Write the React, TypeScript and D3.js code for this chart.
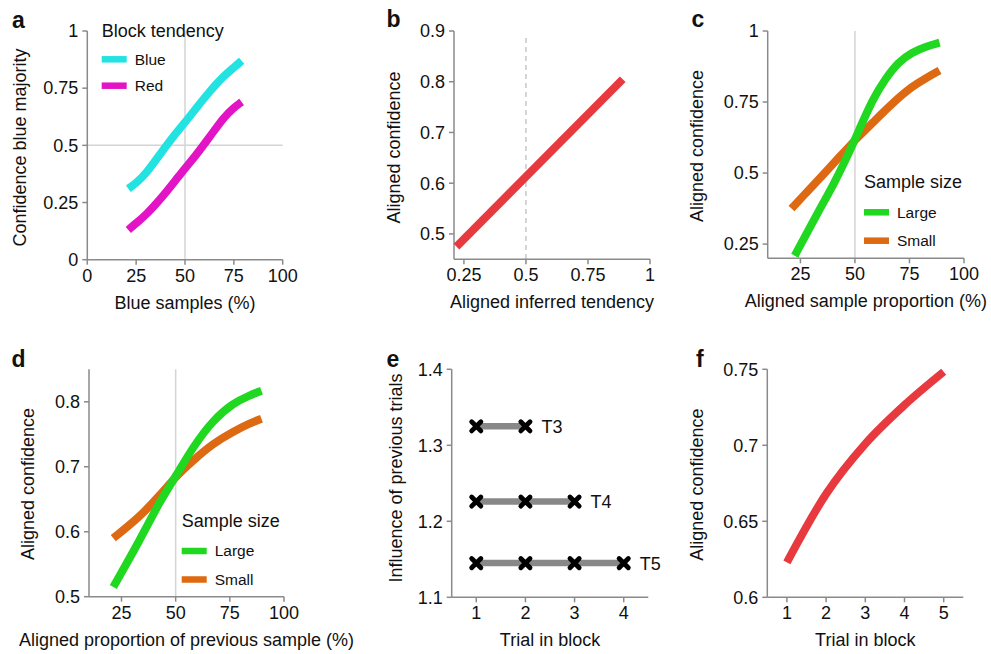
import React from "react";
import * as d3 from "d3";

const FONT = "'Liberation Sans', Arial, Helvetica, sans-serif";

// ---- Panel a ----
const aX = [21, 25, 30, 37.5, 45, 50, 55, 62.5, 70, 75, 79];
const aBlue = [0.31, 0.335, 0.375, 0.465, 0.55, 0.6, 0.655, 0.735, 0.805, 0.84, 0.87];
const aRed = [0.13, 0.16, 0.195, 0.265, 0.345, 0.4, 0.45, 0.535, 0.625, 0.665, 0.69];
const aXTicks = [0, 25, 50, 75, 100];
const aYTicks = [0, 0.25, 0.5, 0.75, 1];

// ---- Panel b ----
const bX = [0.22, 0.89];
const bY = [0.475, 0.805];
const bXTicks = [0.25, 0.5, 0.75, 1];
const bYTicks = [0.5, 0.6, 0.7, 0.8, 0.9];

// ---- Panel c ----
const cLargeX = [22.4, 33.8, 39.8, 45.9, 52, 58, 64.1, 70.1, 76.2, 82.3, 88.8];
const cLarge = [0.209, 0.373, 0.454, 0.548, 0.653, 0.758, 0.834, 0.892, 0.925, 0.945, 0.959];
const cSmallX = [20.9, 27.7, 33.8, 39.8, 45.9, 52, 58, 67.3, 76.2, 82.3, 88.8];
const cSmall = [0.375, 0.431, 0.481, 0.531, 0.582, 0.631, 0.676, 0.747, 0.805, 0.833, 0.861];
const cXTicks = [25, 50, 75, 100];
const cYTicks = [0.25, 0.5, 0.75, 1];

// ---- Panel d ----
const dX = [21.2, 33.5, 42.7, 50, 58.1, 67.3, 76.5, 84.2, 89.6];
const dLarge = [0.515, 0.587, 0.647, 0.685, 0.731, 0.772, 0.798, 0.81, 0.817];
const dSmall = [0.59, 0.623, 0.656, 0.685, 0.71, 0.736, 0.754, 0.767, 0.774];
const dXTicks = [25, 50, 75, 100];
const dYTicks = [0.5, 0.6, 0.7, 0.8];

// ---- Panel e ----
const eSeriesNames = ["T3", "T4", "T5"];
const eSeriesTrials = [[1, 2], [1, 2, 3], [1, 2, 3, 4]];
const eSeriesValues = [1.325, 1.226, 1.145];
const eXTicks = [1, 2, 3, 4];
const eYTicks = [1.1, 1.2, 1.3, 1.4];

// ---- Panel f ----
const fX = [1, 2, 3, 4, 5];
const fY = [0.623, 0.668, 0.701, 0.7265, 0.7484];
const fXTicks = [1, 2, 3, 4, 5];
const fYTicks = [0.6, 0.65, 0.7, 0.75];

const COL = {
  cyan: "#22e2e2",
  magenta: "#e214c6",
  green: "#1fd81f",
  orange: "#dd6912",
  red: "#e8393e",
  axis: "#8a8a8a",
  grid: "#d4d4d4",
  text: "#111",
};

type Sc = d3.ScaleLinear<number, number>;

interface Cfg {
  xDomain: [number, number];
  xRange: [number, number];
  yDomain: [number, number];
  yRange: [number, number];
  xTicks: number[];
  yTicks: number[];
  xTitle: string;
  yTitle: string;
  yTitleX: number;
  yTitleY: number;
  label: string;
  labelX: number;
  labelY: number;
}

function Panel({ cfg, under, over }: { cfg: Cfg; under?: (x: Sc, y: Sc) => React.ReactNode; over: (x: Sc, y: Sc) => React.ReactNode }) {
  const x = d3.scaleLinear().domain(cfg.xDomain).range(cfg.xRange);
  const y = d3.scaleLinear().domain(cfg.yDomain).range(cfg.yRange);
  const [xl, xr] = cfg.xRange;
  const [yb, yt] = cfg.yRange;
  return (
    <g>
      {under ? under(x, y) : null}
      <line x1={xl} x2={xl} y1={yt} y2={yb} stroke={COL.axis} strokeWidth={1.5} />
      <line x1={xl} x2={xr} y1={yb} y2={yb} stroke={COL.axis} strokeWidth={1.5} />
      {cfg.yTicks.map((t) => (
        <g key={"y" + t}>
          <line x1={xl - 5} x2={xl} y1={y(t)} y2={y(t)} stroke={COL.axis} strokeWidth={1.5} />
          <text x={xl - 9} y={y(t)} dy="0.35em" textAnchor="end" fontSize={18} fill={COL.text}>
            {String(t)}
          </text>
        </g>
      ))}
      {cfg.xTicks.map((t) => (
        <g key={"x" + t}>
          <line x1={x(t)} x2={x(t)} y1={yb} y2={yb + 5} stroke={COL.axis} strokeWidth={1.5} />
          <text x={x(t)} y={yb + 22} textAnchor="middle" fontSize={18} fill={COL.text}>
            {String(t)}
          </text>
        </g>
      ))}
      <text x={(xl + xr) / 2} y={yb + 49} textAnchor="middle" fontSize={18} fill={COL.text}>
        {cfg.xTitle}
      </text>
      <text
        transform={`translate(${cfg.yTitleX},${cfg.yTitleY}) rotate(-90)`}
        textAnchor="middle"
        fontSize={18}
        fill={COL.text}
      >
        {cfg.yTitle}
      </text>
      <text x={cfg.labelX} y={cfg.labelY} fontSize={23} fontWeight="bold" fill={COL.text}>
        {cfg.label}
      </text>
      {over(x, y)}
    </g>
  );
}

function curve(xs: number[], ys: number[], x: Sc, y: Sc, kind: "basis" | "mono" | "linear" = "basis") {
  const c = kind === "basis" ? d3.curveBasis : kind === "mono" ? d3.curveMonotoneX : d3.curveLinear;
  const gen = d3
    .line<number>()
    .x((_, i) => x(xs[i]))
    .y((v) => y(v))
    .curve(c);
  return gen(ys) || "";
}

function Legend({ x, y, title, items, gapTitle, gapItem }: { x: number; y: number; title: string; items: { name: string; color: string }[]; gapTitle: number; gapItem: number }) {
  return (
    <g>
      <text x={x} y={y} fontSize={18} fill={COL.text}>
        {title}
      </text>
      {items.map((it, i) => {
        const cy = y + gapTitle + i * gapItem;
        return (
          <g key={it.name}>
            <rect x={x} y={cy - 3.25} width={25} height={6.5} fill={it.color} />
            <text x={x + 33} y={cy} dy="0.35em" fontSize={15.5} fill={COL.text}>
              {it.name}
            </text>
          </g>
        );
      })}
    </g>
  );
}

const LW = 8;

export default function App() {
  const cfgA: Cfg = {
    xDomain: [0, 100], xRange: [87.3, 282.7], yDomain: [0, 1], yRange: [259.7, 31],
    xTicks: aXTicks, yTicks: aYTicks, xTitle: "Blue samples (%)", yTitle: "Confidence blue majority",
    yTitleX: 25.5, yTitleY: 147.5, label: "a", labelX: 12, labelY: 28.3,
  };
  const cfgB: Cfg = {
    xDomain: [0.21, 1.0], xRange: [454, 650], yDomain: [0.45, 0.9], yRange: [259.3, 31],
    xTicks: bXTicks, yTicks: bYTicks, xTitle: "Aligned inferred tendency", yTitle: "Aligned confidence",
    yTitleX: 400, yTitleY: 147.5, label: "b", labelX: 386.5, labelY: 26.7,
  };
  const cfgC: Cfg = {
    xDomain: [10, 100], xRange: [767.7, 964], yDomain: [0.2, 1], yRange: [258.3, 31],
    xTicks: cXTicks, yTicks: cYTicks, xTitle: "Aligned sample proportion (%)", yTitle: "Aligned confidence",
    yTitleX: 703.3, yTitleY: 146, label: "c", labelX: 691.5, labelY: 26.7,
  };
  const cfgD: Cfg = {
    xDomain: [10, 100], xRange: [89, 284], yDomain: [0.5, 0.85], yRange: [596.7, 369.3],
    xTicks: dXTicks, yTicks: dYTicks, xTitle: "Aligned proportion of previous sample (%)", yTitle: "Aligned confidence",
    yTitleX: 33.5, yTitleY: 484, label: "d", labelX: 11.5, labelY: 366.7,
  };
  const cfgE: Cfg = {
    xDomain: [0.5, 4.5], xRange: [451.7, 648.3], yDomain: [1.1, 1.4], yRange: [597.3, 369.3],
    xTicks: eXTicks, yTicks: eYTicks, xTitle: "Trial in block", yTitle: "Influence of previous trials",
    yTitleX: 402, yTitleY: 478, label: "e", labelX: 386.5, labelY: 366.7,
  };
  const cfgF: Cfg = {
    xDomain: [0.5, 5.5], xRange: [767.3, 963.3], yDomain: [0.6, 0.75], yRange: [597.3, 369.3],
    xTicks: fXTicks, yTicks: fYTicks, xTitle: "Trial in block", yTitle: "Aligned confidence",
    yTitleX: 703.3, yTitleY: 484.6, label: "f", labelX: 696, labelY: 366.7,
  };

  return (
    <svg
      width={991}
      height={654}
      style={{ position: "absolute", left: 0, top: 0, background: "#fff", fontFamily: FONT }}
    >
      <rect width={991} height={654} fill="#fff" />
      {/* a */}
      <Panel
        cfg={cfgA}
        under={(x, y) => (
          <g>
            <line x1={x(0)} x2={x(100)} y1={y(0.5)} y2={y(0.5)} stroke={COL.grid} strokeWidth={1.5} />
            <line x1={x(50)} x2={x(50)} y1={y(0)} y2={y(1)} stroke={COL.grid} strokeWidth={1.5} />
          </g>
        )}
        over={(x, y) => (
          <g>
            <path d={curve(aX, aBlue, x, y)} fill="none" stroke={COL.cyan} strokeWidth={LW} />
            <path d={curve(aX, aRed, x, y)} fill="none" stroke={COL.magenta} strokeWidth={LW} />
            <Legend
              x={101.7}
              y={37.3}
              title="Block tendency"
              gapTitle={22}
              gapItem={26.4}
              items={[
                { name: "Blue", color: COL.cyan },
                { name: "Red", color: COL.magenta },
              ]}
            />
          </g>
        )}
      />
      {/* b */}
      <Panel
        cfg={cfgB}
        under={(x, y) => (
          <line x1={x(0.5)} x2={x(0.5)} y1={38} y2={y(0.45)} stroke="#c8c8c8" strokeWidth={1.5} strokeDasharray="5,4" />
        )}
        over={(x, y) => <path d={curve(bX, bY, x, y, "linear")} fill="none" stroke={COL.red} strokeWidth={LW} />}
      />
      {/* c */}
      <Panel
        cfg={cfgC}
        under={(x, y) => (
          <line x1={x(50)} x2={x(50)} y1={y(1)} y2={y(0.2)} stroke={COL.grid} strokeWidth={1.5} />
        )}
        over={(x, y) => (
          <g>
            <path d={curve(cSmallX, cSmall, x, y)} fill="none" stroke={COL.orange} strokeWidth={LW} />
            <path d={curve(cLargeX, cLarge, x, y)} fill="none" stroke={COL.green} strokeWidth={LW} />
            <Legend
              x={864}
              y={188.3}
              title="Sample size"
              gapTitle={24}
              gapItem={28.4}
              items={[
                { name: "Large", color: COL.green },
                { name: "Small", color: COL.orange },
              ]}
            />
          </g>
        )}
      />
      {/* d */}
      <Panel
        cfg={cfgD}
        under={(x, y) => (
          <line x1={x(50)} x2={x(50)} y1={y(0.85)} y2={y(0.5)} stroke={COL.grid} strokeWidth={1.5} />
        )}
        over={(x, y) => (
          <g>
            <path d={curve(dX, dSmall, x, y)} fill="none" stroke={COL.orange} strokeWidth={LW} />
            <path d={curve(dX, dLarge, x, y)} fill="none" stroke={COL.green} strokeWidth={LW} />
            <Legend
              x={181.7}
              y={527.3}
              title="Sample size"
              gapTitle={23.7}
              gapItem={28.5}
              items={[
                { name: "Large", color: COL.green },
                { name: "Small", color: COL.orange },
              ]}
            />
          </g>
        )}
      />
      {/* e */}
      <Panel
        cfg={cfgE}
        over={(x, y) => (
          <g>
            {eSeriesNames.map((name, si) => {
              const trials = eSeriesTrials[si];
              const v = eSeriesValues[si];
              const yy = y(v);
              return (
                <g key={name}>
                  <line x1={x(trials[0])} x2={x(trials[trials.length - 1])} y1={yy} y2={yy} stroke="#888" strokeWidth={6.5} />
                  {trials.map((t) => {
                    const cx = x(t);
                    const s = 4.6;
                    return (
                      <path
                        key={t}
                        d={`M${cx - s},${yy - s}L${cx + s},${yy + s}M${cx - s},${yy + s}L${cx + s},${yy - s}`}
                        stroke="#000"
                        strokeWidth={4.8}
                        strokeLinecap="round"
                      />
                    );
                  })}
                  <text x={x(trials[trials.length - 1]) + 16} y={yy} dy="0.36em" fontSize={18} fill={COL.text}>
                    {name}
                  </text>
                </g>
              );
            })}
          </g>
        )}
      />
      {/* f */}
      <Panel
        cfg={cfgF}
        over={(x, y) => <path d={curve(fX, fY, x, y, "mono")} fill="none" stroke={COL.red} strokeWidth={LW} />}
      />
    </svg>
  );
}
